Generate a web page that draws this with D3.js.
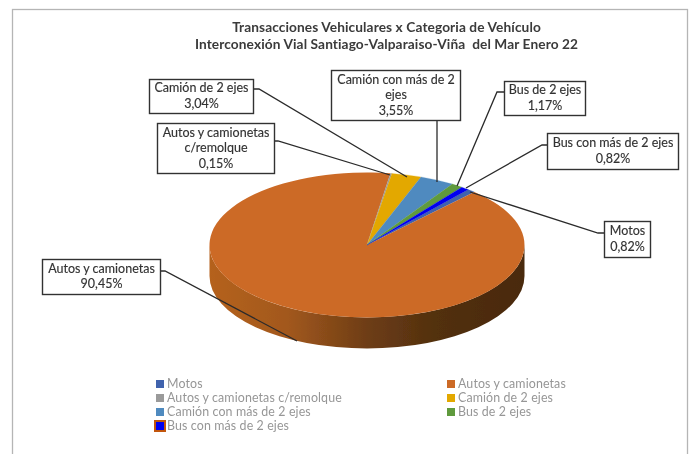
<!DOCTYPE html>
<html><head><meta charset="utf-8">
<script src="https://cdn.jsdelivr.net/npm/d3@7"></script>
<style>html,body{margin:0;padding:0;background:#fff}svg{display:block}</style>
</head><body><svg id="c" width="694" height="454"></svg>
<script>
const categories=["Motos","Autos y camionetas","Autos y camionetas c/remolque","Camión de 2 ejes","Camión con más de 2 ejes","Bus de 2 ejes","Bus con más de 2 ejes"];
const values=[0.82,90.45,0.15,3.04,3.55,1.17,0.82];
const valueLabels=["0,82%","90,45%","0,15%","3,04%","3,55%","1,17%","0,82%"];
const colors=["#3f63ad","#cc6b28","#9a9a9a","#e3a804","#4f8abf","#5f9a3c","#0000f0"];
const titleLines=["Transacciones Vehiculares x Categoria de Vehículo","Interconexión Vial Santiago-Valparaiso-Viña  del Mar Enero 22"];
const labelLines=[["Motos"],["Autos y camionetas"],["Autos y camionetas","c/remolque"],["Camión de 2 ejes"],["Camión con más de 2","ejes"],["Bus de 2 ejes"],["Bus con más de 2 ejes"]];
const labelBoxes=[[604,221,46,36],[42,259,118,35],[157,123,117,50],[149,79,104,34],[331,70,129,50],[504,81,81,34],[547,133,131,36]];
const leaders=[[[604,233],[598,233],[470,192]],[[160,271],[165,271],[297,341]],[[274,141],[278,141],[390,175]],[[253,89],[259,89],[407,177]],[[437,120],[437,182]],[[504,92],[497,92],[457,186]],[[547,145],[542,145],[466,188]]];

const svg=d3.select("#c");
const font="Lato, 'Open Sans', sans-serif";
const defs=svg.append("defs");
defs.append("filter").attr("id","soft").attr("filterUnits","userSpaceOnUse").attr("x",0).attr("y",0).attr("width",694).attr("height",454)
  .append("feGaussianBlur").attr("stdDeviation",0.55);
const grad=defs.append("linearGradient").attr("id","rim").attr("gradientUnits","userSpaceOnUse")
  .attr("x1",209).attr("x2",524).attr("y1",0).attr("y2",0);
[[0,"#b5621f"],[0.25,"#a2581d"],[0.5,"#6e3d15"],[0.72,"#52300f"],[1,"#4a290c"]].forEach(([o,c])=>grad.append("stop").attr("offset",o).attr("stop-color",c));

const root=svg.append("g").attr("filter","url(#soft)");
root.append("rect").attr("width",694).attr("height",454).attr("fill","#fff");
root.append("rect").attr("x",12.5).attr("y",9.5).attr("width",675).attr("height",460).attr("fill","#fff").attr("stroke","#b5b5b5").attr("stroke-width",1.3);

const tt=root.append("g").attr("font-family",font).attr("font-weight",700).attr("font-size",13.7).attr("letter-spacing",0.1).attr("fill","#3a3a3a").attr("text-anchor","middle");
titleLines.forEach((t,i)=>tt.append("text").attr("x",386.5).attr("y",32+i*16.5).attr("xml:space","preserve").text(t));

// pie
const cx=367,cy=245,rx=157.5,ry=72.5,depth=31;
const pie=d3.pie().sort(null).startAngle(40*Math.PI/180).endAngle(400*Math.PI/180)(values);
const arc=d3.arc().innerRadius(0).outerRadius(rx);
const pt=a=>[cx+rx*Math.sin(a),cy-ry*Math.cos(a)];
// visible rim
pie.forEach((d,i)=>{
  for(const k of [0,1]){
    const a0=Math.max(d.startAngle,Math.PI/2+k*2*Math.PI),a1=Math.min(d.endAngle,1.5*Math.PI+k*2*Math.PI);
    if(a1<=a0)continue;
    const p=pt(a0),q=pt(a1);
    root.append("path").attr("fill",i===1?"url(#rim)":colors[i])
      .attr("d",`M${p[0]},${p[1]}A${rx},${ry} 0 0 1 ${q[0]},${q[1]}L${q[0]},${q[1]+depth}A${rx},${ry} 0 0 0 ${p[0]},${p[1]+depth}Z`);
  }
});
const topFace=root.append("g").attr("transform",`translate(${cx},${cy}) scale(1,${ry/rx})`);
topFace.selectAll("path").data(pie).join("path").attr("d",arc).attr("fill",(d,i)=>colors[i])
  .attr("stroke",(d,i)=>i===1?"none":colors[i]).attr("stroke-width",0.3);

// leaders and labels
const line=d3.line();
root.append("g").selectAll("path").data(leaders).join("path").attr("d",line).attr("fill","none").attr("stroke","#2b2b2b").attr("stroke-width",1.3);
const lab=root.append("g").selectAll("g").data(categories).join("g");
lab.append("rect").attr("x",(d,i)=>labelBoxes[i][0]+.5).attr("y",(d,i)=>labelBoxes[i][1]+.5)
  .attr("width",(d,i)=>labelBoxes[i][2]).attr("height",(d,i)=>labelBoxes[i][3])
  .attr("fill","#fff").attr("stroke","#333").attr("stroke-width",1.4);
lab.each(function(d,i){
  const b=labelBoxes[i],lines=[...labelLines[i],valueLabels[i]],g=d3.select(this);
  const lh=15.5,y0=b[1]+b[3]/2-(lines.length-1)*lh/2+4;
  lines.forEach((t,j)=>g.append("text").attr("x",b[0]+b[2]/2+.5).attr("y",y0+j*lh)
    .attr("text-anchor","middle").attr("font-family",font).attr("font-size",12.5).attr("fill","#333").attr("stroke","#333").attr("stroke-width",0.15).text(t));
});

// legend
const legendX=[156,447],legendY=[384,398,412,426];
const legendPos=[[0,0],[1,0],[0,1],[1,1],[0,2],[1,2],[0,3]];
const leg=root.append("g").selectAll("g").data(categories).join("g")
  .attr("transform",(d,i)=>`translate(${legendX[legendPos[i][0]]},${legendY[legendPos[i][1]]})`);
leg.filter((d,i)=>i===6).append("rect").attr("x",-2).attr("y",-6).attr("width",12).attr("height",12).attr("fill","#c2560f");
leg.append("rect").attr("x",0).attr("y",-4).attr("width",8).attr("height",8).attr("fill",(d,i)=>colors[i]);
leg.append("text").attr("x",11).attr("y",4.3).attr("font-family",font).attr("font-size",12.4).attr("letter-spacing",0.12).attr("fill","#969696").text(d=>d);
</script></body></html>
